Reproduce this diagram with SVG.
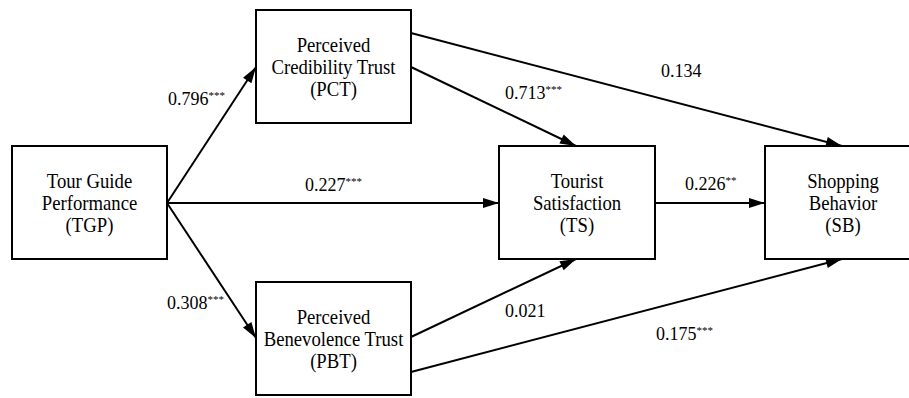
<svg xmlns="http://www.w3.org/2000/svg" width="909" height="398" viewBox="0 0 909 398">
<style>
.box{fill:#fff;stroke:#000;stroke-width:2}
text{font-family:'Liberation Serif','Times New Roman',Tinos,'Noto Serif','DejaVu Serif',FreeSerif,'Nimbus Roman',Times,serif}
.nt{font-size:22px;text-anchor:middle;fill:#000}
.el{font-size:18px;fill:#000}
.sup{font-size:11px}
.edge{stroke:#000;stroke-width:2;fill:none;marker-end:url(#arr)}
</style>
<defs>
<marker id="arr" markerUnits="userSpaceOnUse" markerWidth="17" markerHeight="11" refX="16" refY="5" orient="auto" overflow="visible">
<path d="M0,0 L16,5 L0,10 Z" fill="#000"/>
</marker>
</defs>
<rect width="909" height="398" fill="#fff"/>
<g id="connectors">
<line class="edge" x1="167" y1="203" x2="256" y2="67"/>
<line class="edge" x1="167" y1="203" x2="256" y2="338"/>
<line class="edge" x1="167" y1="203" x2="499" y2="203"/>
<line class="edge" x1="411" y1="67" x2="576" y2="146"/>
<line class="edge" x1="411" y1="33" x2="842" y2="146"/>
<line class="edge" x1="655" y1="203" x2="765" y2="203"/>
<line class="edge" x1="411" y1="337" x2="576" y2="259"/>
<line class="edge" x1="411" y1="372" x2="842" y2="259"/>
</g>
<g id="edge-labels">
<text class="el" x="168" y="105">0.796<tspan class="sup" dy="-6">***</tspan></text>
<text class="el" x="305" y="191">0.227<tspan class="sup" dy="-6">***</tspan></text>
<text class="el" x="167" y="309">0.308<tspan class="sup" dy="-6">***</tspan></text>
<text class="el" x="505" y="98.5">0.713<tspan class="sup" dy="-6">***</tspan></text>
<text class="el" x="661" y="77">0.134</text>
<text class="el" x="685" y="190">0.226<tspan class="sup" dy="-6">**</tspan></text>
<text class="el" x="505" y="317">0.021</text>
<text class="el" x="656" y="339.5">0.175<tspan class="sup" dy="-6">***</tspan></text>
</g>
<g id="TGP">
<rect class="box" x="12" y="146" width="155" height="113"/>
<text class="nt" transform="translate(89.5 0) scale(0.85 1)"><tspan x="0" y="188">Tour Guide</tspan><tspan x="0" y="210">Performance</tspan><tspan x="0" y="232">(TGP)</tspan></text>
</g>
<g id="PCT">
<rect class="box" x="256" y="10" width="155" height="113"/>
<text class="nt" transform="translate(333.5 0) scale(0.85 1)"><tspan x="0" y="52">Perceived</tspan><tspan x="0" y="74">Credibility Trust</tspan><tspan x="0" y="96">(PCT)</tspan></text>
</g>
<g id="PBT">
<rect class="box" x="256" y="282" width="155" height="113"/>
<text class="nt" transform="translate(333.5 0) scale(0.85 1)"><tspan x="0" y="324">Perceived</tspan><tspan x="0" y="346">Benevolence Trust</tspan><tspan x="0" y="368">(PBT)</tspan></text>
</g>
<g id="TS">
<rect class="box" x="499" y="146" width="156" height="113"/>
<text class="nt" transform="translate(577 0) scale(0.85 1)"><tspan x="0" y="188">Tourist</tspan><tspan x="0" y="210">Satisfaction</tspan><tspan x="0" y="232">(TS)</tspan></text>
</g>
<g id="SB">
<rect class="box" x="765" y="146" width="156" height="113"/>
<text class="nt" transform="translate(843 0) scale(0.85 1)"><tspan x="0" y="188">Shopping</tspan><tspan x="0" y="210">Behavior</tspan><tspan x="0" y="232">(SB)</tspan></text>
</g>
</svg>
